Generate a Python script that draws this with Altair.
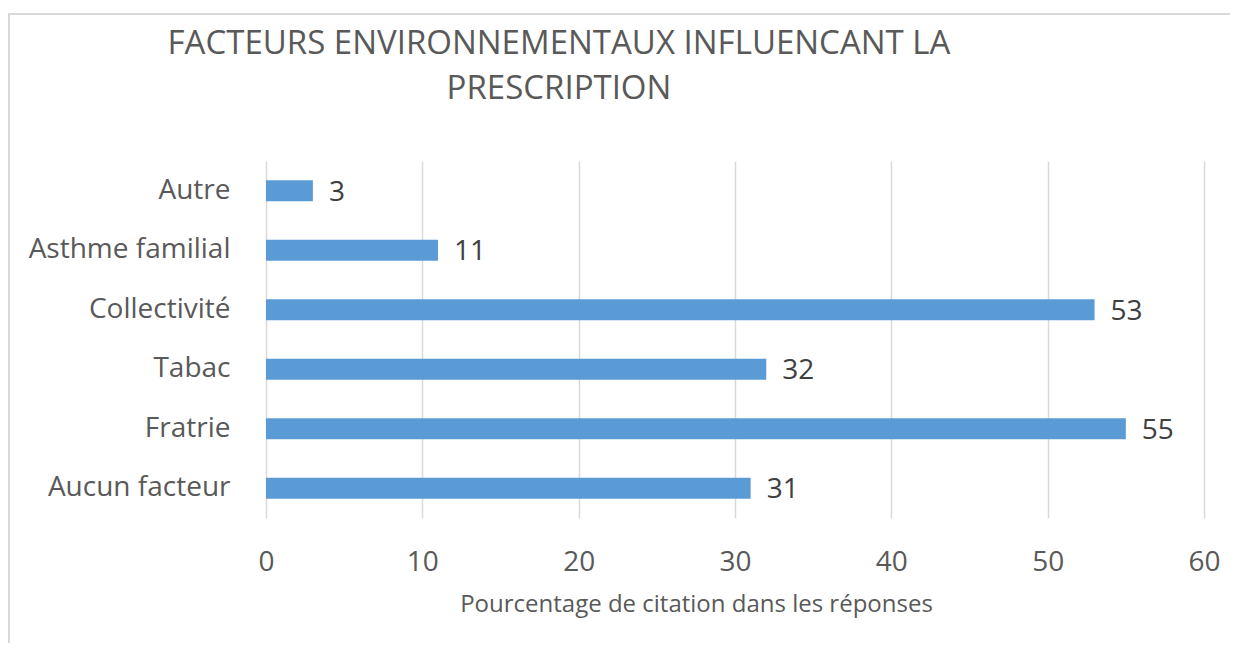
import altair as alt
import pandas as pd

categories = ["Autre", "Asthme familial", "Collectivité", "Tabac", "Fratrie", "Aucun facteur"]
values = [3, 11, 53, 32, 55, 31]
x_ticks = [0, 10, 20, 30, 40, 50, 60]
title_lines = ["FACTEURS ENVIRONNEMENTAUX INFLUENCANT LA", "PRESCRIPTION"]
x_title = "Pourcentage de citation dans les réponses"

df = pd.DataFrame({"cat": categories, "val": values})
FONT = "Open Sans"
W, H = 938, 357

y_enc = alt.Y("cat:N", sort=categories, title=None,
              axis=alt.Axis(labelFontSize=28, labelColor="#595959", labelFont=FONT,
                            labelPadding=36, labelLimit=400, ticks=False, domain=False, grid=False))
x_enc = alt.X("val:Q", title=x_title, scale=alt.Scale(domain=[0, 60], nice=False),
              axis=alt.Axis(values=x_ticks, grid=True, gridColor="#D9D9D9", gridWidth=1.5,
                            domain=False, ticks=False, labelFontSize=28, labelColor="#595959",
                            labelFont=FONT, labelPadding=30, labelFlush=False,
                            titleFont=FONT, titleFontSize=24,
                            titleFontWeight="normal", titleColor="#595959", titlePadding=16,
                            titleX=430, titleAlign="center"))

bars = alt.Chart(df).mark_bar(size=21, color="#5B9BD5").encode(x=x_enc, y=y_enc)
labels = alt.Chart(df).mark_text(align="left", baseline="middle", dx=16, dy=2, fontSize=28,
                                 font=FONT, color="#404040").encode(
    x="val:Q", y=alt.Y("cat:N", sort=categories), text="val:Q")

border = alt.Chart(pd.DataFrame({"a": [0]})).mark_rect(
    fillOpacity=0, stroke="#D9D9D9", strokeWidth=2).encode(
    x=alt.value(-257), x2=alt.value(1000), y=alt.value(-147), y2=alt.value(520))

chart = alt.layer(border, bars, labels).properties(
    width=W, height=H,
    autosize=alt.AutoSizeParams(type="none"),
    padding={"left": 258, "top": 153, "right": 26, "bottom": 125},
    title=alt.TitleParams(text=title_lines, fontSize=33, font=FONT, color="#595959",
                          fontWeight="normal", anchor="middle", dx=-176, lineHeight=45,
                          offset=-93),
).configure_view(stroke=None)

chart.save("out.html", embed_options={"renderer": "svg", "actions": False})
